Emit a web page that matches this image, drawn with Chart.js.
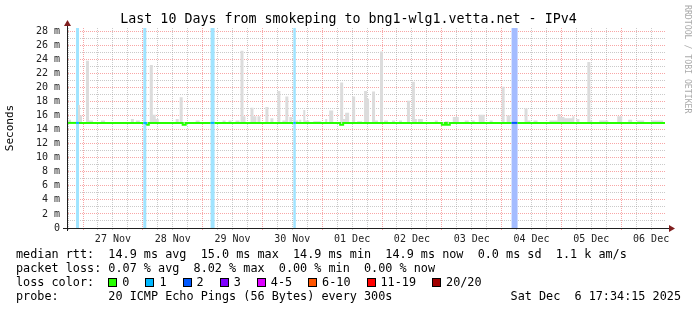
<!DOCTYPE html>
<html>
<head>
<meta charset="utf-8">
<script src="https://cdn.jsdelivr.net/npm/chart.js@4/dist/chart.umd.min.js"></script>
<style>
    body { margin: 0; background: #fff; }
    #wrap { position: relative; width: 697px; height: 310px; background: #fff; overflow: hidden; }
    #chart { position: absolute; left: 0; top: 0; }
    .mono { font-family: 'DejaVu Sans Mono', monospace; color: #000; white-space: pre; position: absolute; }
    .title { top: 11px; left: 0; width: 697px; text-align: center; font-size: 13.3px; line-height: 16px; }
    .mark { left: 683px; top: 5px; font-size: 8.2px; line-height: 9px; color: #aaa; writing-mode: vertical-rl; }
    .row { left: 16px; font-size: 11.8px; line-height: 14px; }
    .box { display: inline-block; width: 9px; height: 9px; border: 1px solid #000; box-sizing: border-box; margin-right: 5px; vertical-align: -1px; }
    .item { display: inline-block; margin-right: 16px; }
</style>
</head>
<body>
<div id="wrap">
    <canvas id="chart" width="697" height="310"></canvas>
    <div class="mono title">Last 10 Days from smokeping to bng1-wlg1.vetta.net - IPv4</div>
    <div class="mono mark">RRDTOOL / TOBI OETIKER</div>
    <div class="mono row" style="top:247px">median rtt:  14.9 ms avg  15.0 ms max  14.9 ms min  14.9 ms now  0.0 ms sd  1.1 k am/s</div>
    <div class="mono row" style="top:261px">packet loss: 0.07 % avg  8.02 % max  0.00 % min  0.00 % now</div>
    <div class="mono row" style="top:275px">loss color:  <span id="lossLegend"></span></div>
    <div class="mono row" style="top:289px">probe:       20 ICMP Echo Pings (56 Bytes) every 300s</div>
    <div class="mono row" style="top:289px;left:auto;right:16px">Sat Dec  6 17:34:15 2025</div>
</div>
<script>
// time axis in hours after 27 Nov 00:00
const startHour = -6.43;
const endHour = 233.57;
const dayLabels = ['27 Nov', '28 Nov', '29 Nov', '30 Nov', '01 Dec', '02 Dec', '03 Dec', '04 Dec', '05 Dec', '06 Dec'];

const yMax = 28.45;
const smokeFloor = 15.05;

// smoke spikes (ms) above the median
const smokeStart = [-6.0, -2.0, -1.2, 1.2, 2.4, 7.2, 19.2, 21.2, 26.8, 28.0, 29.2, 37.2, 38.8, 45.2,
    56.0, 58.4, 61.2, 63.2, 64.4, 67.2, 68.4, 70.0, 73.2, 75.2, 78.0, 80.0, 81.2, 82.8, 85.2, 86.8,
    88.4, 89.2, 92.4, 97.2, 98.8, 103.2, 104.4, 105.2, 108.0, 110.0, 112.8, 114.0, 116.0, 117.2,
    119.2, 120.8, 124.0, 126.8, 130.0, 132.0, 133.2, 134.4, 141.2, 145.2, 148.4, 153.2, 156.0,
    158.8, 163.2, 168.0, 170.0, 177.2, 178.4, 180.8, 187.2, 190.4, 191.6, 193.2, 196.4, 198.0,
    202.4, 203.6, 207.2, 214.4, 218.8, 222.4, 228.0];
const smokeEnd = [-4.8, -1.2, -0.4, 2.4, 4.0, 8.8, 20.4, 22.8, 28.0, 29.2, 30.4, 38.4, 40.0, 46.8,
    57.2, 59.6, 62.8, 64.4, 65.2, 68.4, 69.6, 71.2, 74.4, 76.4, 79.2, 81.2, 82.4, 84.0, 86.4, 87.6,
    89.2, 90.8, 95.6, 98.0, 100.4, 104.4, 105.2, 106.8, 109.2, 112.0, 114.0, 114.8, 117.2, 118.4,
    120.4, 122.4, 125.2, 128.0, 131.2, 133.2, 134.0, 136.4, 142.4, 146.8, 150.8, 154.8, 157.2,
    161.2, 164.4, 169.2, 171.6, 178.4, 179.6, 182.4, 190.4, 191.6, 193.2, 196.4, 197.2, 199.2,
    203.6, 204.4, 210.8, 216.4, 220.4, 225.2, 232.8];
const smokeMax = [15.4, 17.5, 16.0, 23.8, 15.3, 15.3, 15.5, 15.3, 23.2, 16.1, 15.5, 15.5, 18.6, 15.3,
    15.3, 15.3, 15.3, 25.2, 15.9, 17.1, 15.9, 15.9, 17.2, 15.6, 19.5, 15.3, 18.7, 15.8, 15.3, 15.4,
    16.8, 15.3, 15.2, 15.5, 16.7, 20.7, 15.5, 16.4, 18.7, 15.2, 19.5, 18.4, 19.4, 15.3,
    25.1, 15.3, 15.3, 15.3, 18.1, 20.8, 15.5, 15.5, 15.3, 15.2, 15.8, 15.3, 15.3,
    16.1, 15.3, 20.1, 16.0, 17.0, 15.3, 15.3, 15.3, 16.2, 15.8, 15.6, 15.9, 15.5,
    23.6, 15.3, 15.3, 15.9, 15.4, 15.3, 15.3];

// median rtt steps and lost pings (of 20) per step
const medianHour = [-6.43, -2.8, -1.6, 24.2, 25.4, 26.4, 40.0, 41.2, 51.2, 52.8, 84.4, 85.4,
    103.2, 104.4, 144.0, 145.2, 146.0, 147.2, 172.0, 174.4, 233.57];
const medianRtt = [14.95, 14.95, 14.95, 14.95, 14.7, 14.95, 14.7, 14.95, 14.95, 14.95, 14.95, 14.95,
    14.7, 14.95, 14.7, 14.95, 14.7, 14.95, 14.95, 14.95, 14.95];
const medianLoss = [0, 1, 0, 1, 0, 0, 0, 0, 1, 0, 1, 0, 0, 0, 0, 0, 0, 0, 2, 0, 0];

const lossLabels = ['0', '1', '2', '3', '4-5', '6-10', '11-19', '20/20'];
const lossColors = ['#26ff00', '#00b8ff', '#0059ff', '#7e00ff', '#dd00ff', '#ff5500', '#ff0000', '#a10000'];
const lossBgColors = ['#ffffff', '#a0e4ff', '#a4bcff'];

const gridMinor = 'rgba(150, 150, 150, 0.5)';
const gridMajor = 'rgba(245, 128, 128, 0.7)';

document.getElementById('lossLegend').innerHTML = lossLabels
    .map((l, i) => `<span class="item"><span class="box" style="background:${lossColors[i]}"></span>${l}</span>`)
    .join('');

const smokeData = [{ x: startHour, y: smokeFloor }];
smokeStart.forEach((s, i) => {
    smokeData.push({ x: s, y: smokeMax[i] });
    smokeData.push({ x: smokeEnd[i], y: smokeFloor });
});
smokeData.push({ x: endHour, y: smokeFloor });

const medianData = medianHour.map((h, i) => ({ x: h, y: medianRtt[i] }));

function lossBand(level) {
    return medianHour.map((h, i) => ({ x: h, y: medianLoss[i] === level ? yMax : 0 }));
}

const axisArrows = {
    id: 'axisArrows',
    afterDraw(chart) {
        const { ctx, chartArea: a } = chart;
        const bx = Math.round(a.left) + 0.5;
        const by = Math.round(a.bottom) + 0.5;
        ctx.save();
        ctx.strokeStyle = '#1f1f1f';
        ctx.lineWidth = 1;
        ctx.beginPath();
        ctx.moveTo(a.left - 4, by);
        ctx.lineTo(a.right + 5, by);
        ctx.moveTo(bx, a.bottom + 3);
        ctx.lineTo(bx, a.top - 3);
        ctx.stroke();
        ctx.fillStyle = '#801f1f';
        ctx.beginPath();
        ctx.moveTo(a.right + 4, by - 3.5);
        ctx.lineTo(a.right + 10, by);
        ctx.lineTo(a.right + 4, by + 3.5);
        ctx.closePath();
        ctx.fill();
        ctx.beginPath();
        ctx.moveTo(bx - 3.5, a.top - 2);
        ctx.lineTo(bx, a.top - 8);
        ctx.lineTo(bx + 3.5, a.top - 2);
        ctx.closePath();
        ctx.fill();
        ctx.restore();
    },
};

const ctx = document.getElementById('chart').getContext('2d');
new Chart(ctx, {
    type: 'line',
    data: {
        datasets: [
            {
                label: 'median rtt',
                data: medianData,
                stepped: true,
                borderWidth: 2,
                borderColor: lossColors[0],
                pointRadius: 0,
                fill: false,
                segment: {
                    borderColor: (c) => lossColors[medianLoss[c.p0DataIndex]],
                },
            },
            {
                label: 'smoke',
                data: smokeData,
                stepped: true,
                borderWidth: 0,
                pointRadius: 0,
                backgroundColor: '#dcdcdc',
                fill: { value: 14.95 },
            },
            {
                label: 'loss 1',
                data: lossBand(1),
                stepped: true,
                borderWidth: 0,
                pointRadius: 0,
                backgroundColor: lossBgColors[1],
                fill: 'origin',
            },
            {
                label: 'loss 2',
                data: lossBand(2),
                stepped: true,
                borderWidth: 0,
                pointRadius: 0,
                backgroundColor: lossBgColors[2],
                fill: 'origin',
            },
        ],
    },
    options: {
        responsive: false,
        animation: false,
        devicePixelRatio: 1,
        layout: { padding: { left: 0, top: 28, right: 32, bottom: 62 } },
        plugins: {
            legend: { display: false },
            tooltip: { enabled: false },
        },
        scales: {
            x: {
                type: 'linear',
                min: startHour,
                max: endHour,
                afterBuildTicks: (scale) => {
                    const ticks = [];
                    for (let h = -6; h <= endHour; h += 6) ticks.push({ value: h });
                    scale.ticks = ticks;
                },
                afterFit: (scale) => {
                    scale.height = 20;
                },
                ticks: {
                    autoSkip: false,
                    maxRotation: 0,
                    padding: 3,
                    color: '#222',
                    font: { family: 'DejaVu Sans Mono', size: 10 },
                    callback: (v) => {
                        const day = (v - 12) / 24;
                        return Number.isInteger(day) ? dayLabels[day] : '';
                    },
                },
                grid: {
                    color: (c) => (c.tick.value % 24 === 0 ? gridMajor : gridMinor),
                    tickColor: (c) => (c.tick.value % 24 === 0 ? gridMajor : gridMinor),
                    tickLength: 2,
                },
                border: { display: true, color: '#1f1f1f', dash: [1, 1] },
            },
            y: {
                min: 0,
                max: yMax,
                afterBuildTicks: (scale) => {
                    const ticks = [];
                    for (let v = 0; v <= 28; v += 1) ticks.push({ value: v });
                    scale.ticks = ticks;
                },
                afterFit: (scale) => {
                    scale.width = 67;
                },
                ticks: {
                    autoSkip: false,
                    padding: 7,
                    color: '#222',
                    font: { family: 'DejaVu Sans Mono', size: 10 },
                    callback: (v) => (v % 2 !== 0 ? '' : v === 0 ? '0' : v + ' m'),
                },
                grid: {
                    drawTicks: false,
                    color: (c) => (c.tick.value % 2 === 0 ? gridMajor : gridMinor),
                },
                border: { display: true, color: '#1f1f1f', dash: [1, 1] },
                title: {
                    display: true,
                    text: 'Seconds',
                    color: '#000',
                    font: { family: 'DejaVu Sans Mono', size: 11 },
                    padding: { top: 4, bottom: 0 },
                },
            },
        },
    },
    plugins: [axisArrows],
});
</script>
</body>
</html>
